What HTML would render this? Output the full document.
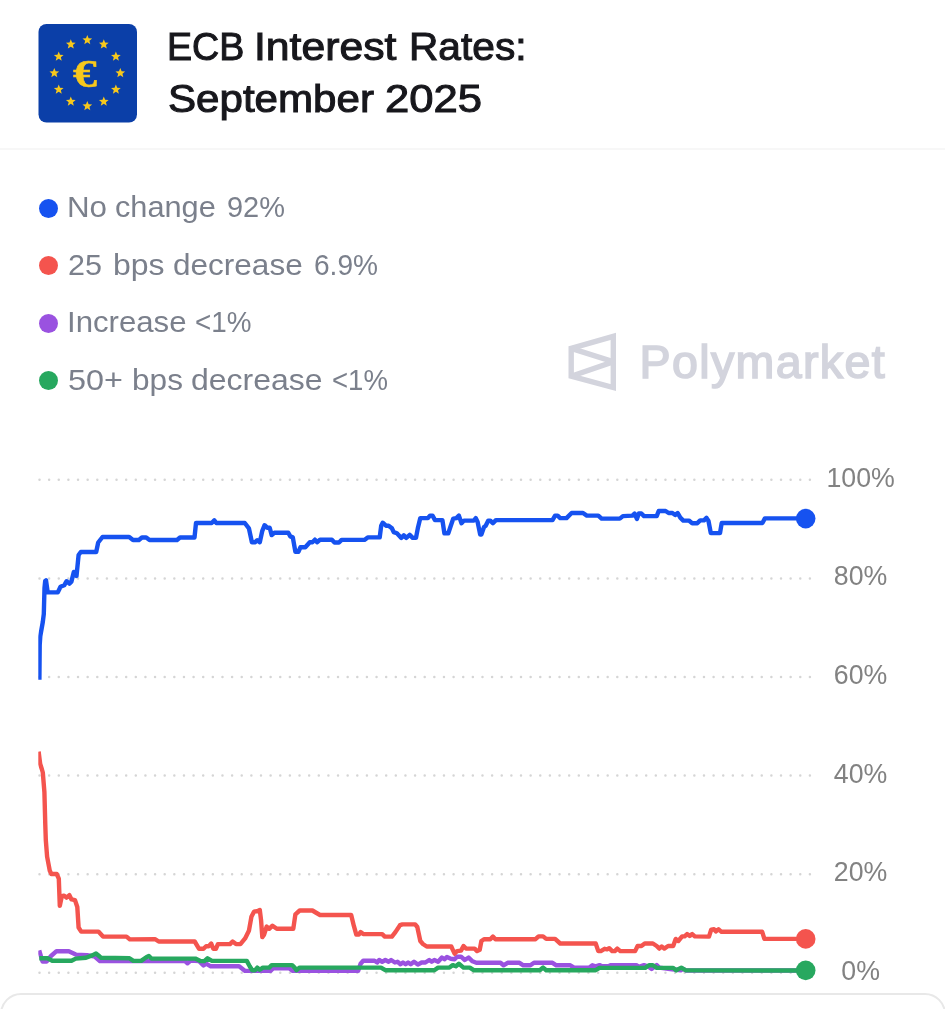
<!DOCTYPE html>
<html><head><meta charset="utf-8"><title>ECB Interest Rates: September 2025</title>
<style>
html,body{margin:0;padding:0;background:#fff;}
body{width:945px;height:1009px;position:relative;overflow:hidden;font-family:"Liberation Sans",sans-serif;}
.abs{position:absolute;}
.title{left:0;top:0;font-size:38px;line-height:52.6px;color:#17171c;white-space:nowrap;-webkit-text-stroke:1.0px #17171c;}
.title span{position:absolute;display:block;transform-origin:0 0;}
.hr{left:0;top:148px;width:945px;height:2px;background:#f7f7f7;}
.leg span{position:absolute;display:block;transform-origin:0 0;font-size:29.8px;line-height:34px;color:#7b808c;white-space:nowrap;}
.dot{left:38.7px;width:19px;height:19px;border-radius:50%;}
.card{left:-0.5px;top:993.3px;width:942px;height:40px;border:2px solid #e8e8e8;border-radius:21px;background:#fff;}
svg{position:absolute;left:0;top:0;}
svg text{font-family:"Liberation Sans",sans-serif;}
</style></head><body>
<div class="abs title"><span style="left:167.0px;top:20.7px;transform:scaleX(0.989)">ECB </span><span style="left:254.2px;top:20.7px;transform:scaleX(1.124)">Interest </span><span style="left:408.6px;top:20.7px;transform:scaleX(1.070)">Rates: </span><span style="left:167.9px;top:73.3px;transform:scaleX(1.108)">September </span><span style="left:384.7px;top:73.3px;transform:scaleX(1.147)">2025 </span></div>
<div class="abs hr"></div>
<div class="abs dot" style="top:198.9px;background:#1652f0"></div>
<div class="leg" id="l1"><span style="left:66.8px;top:190.17px;transform:scaleX(1.051)">No </span><span style="left:115.4px;top:190.17px;transform:scaleX(1.031)">change </span><span style="left:226.6px;top:190.17px;transform:scaleX(0.972)">92% </span></div>
<div class="abs dot" style="top:256.4px;background:#f4544e"></div>
<div class="leg" id="l2"><span style="left:67.9px;top:247.67px;transform:scaleX(1.023)">25 </span><span style="left:112.5px;top:247.67px;transform:scaleX(1.073)">bps </span><span style="left:172.9px;top:247.67px;transform:scaleX(1.058)">decrease </span><span style="left:314.0px;top:247.67px;transform:scaleX(0.942)">6.9% </span></div>
<div class="abs dot" style="top:313.9px;background:#9a52e0"></div>
<div class="leg" id="l3"><span style="left:66.8px;top:305.17px;transform:scaleX(1.046)">Increase </span><span style="left:195.0px;top:305.17px;transform:scaleX(0.934)">&lt;1% </span></div>
<div class="abs dot" style="top:371.4px;background:#27a85f"></div>
<div class="leg" id="l4"><span style="left:67.8px;top:362.67px;transform:scaleX(1.085)">50+ </span><span style="left:131.6px;top:362.67px;transform:scaleX(1.060)">bps </span><span style="left:191.2px;top:362.67px;transform:scaleX(1.073)">decrease </span><span style="left:331.6px;top:362.67px;transform:scaleX(0.925)">&lt;1% </span></div>
<div class="abs card"></div>
<svg width="945" height="1009" viewBox="0 0 945 1009">
<rect x="38.5" y="24" width="98.5" height="98.5" rx="8" fill="#0b3fa8"/>
<polygon points="87.30,34.90 88.62,38.18 92.15,38.42 89.43,40.69 90.30,44.13 87.30,42.24 84.30,44.13 85.17,40.69 82.45,38.42 85.98,38.18" fill="#f7c81c"/><polygon points="103.80,39.32 105.12,42.61 108.65,42.85 105.93,45.11 106.80,48.55 103.80,46.67 100.80,48.55 101.67,45.11 98.95,42.85 102.48,42.61" fill="#f7c81c"/><polygon points="115.88,51.40 117.20,54.68 120.73,54.92 118.01,57.19 118.88,60.63 115.88,58.74 112.88,60.63 113.74,57.19 111.03,54.92 114.56,54.68" fill="#f7c81c"/><polygon points="120.30,67.90 121.62,71.18 125.15,71.42 122.43,73.69 123.30,77.13 120.30,75.24 117.30,77.13 118.17,73.69 115.45,71.42 118.98,71.18" fill="#f7c81c"/><polygon points="115.88,84.40 117.20,87.68 120.73,87.92 118.01,90.19 118.88,93.63 115.88,91.74 112.88,93.63 113.74,90.19 111.03,87.92 114.56,87.68" fill="#f7c81c"/><polygon points="103.80,96.48 105.12,99.76 108.65,100.00 105.93,102.27 106.80,105.70 103.80,103.82 100.80,105.70 101.67,102.27 98.95,100.00 102.48,99.76" fill="#f7c81c"/><polygon points="87.30,100.90 88.62,104.18 92.15,104.42 89.43,106.69 90.30,110.13 87.30,108.24 84.30,110.13 85.17,106.69 82.45,104.42 85.98,104.18" fill="#f7c81c"/><polygon points="70.80,96.48 72.12,99.76 75.65,100.00 72.93,102.27 73.80,105.70 70.80,103.82 67.80,105.70 68.67,102.27 65.95,100.00 69.48,99.76" fill="#f7c81c"/><polygon points="58.72,84.40 60.04,87.68 63.57,87.92 60.86,90.19 61.72,93.63 58.72,91.74 55.72,93.63 56.59,90.19 53.87,87.92 57.40,87.68" fill="#f7c81c"/><polygon points="54.30,67.90 55.62,71.18 59.15,71.42 56.43,73.69 57.30,77.13 54.30,75.24 51.30,77.13 52.17,73.69 49.45,71.42 52.98,71.18" fill="#f7c81c"/><polygon points="58.72,51.40 60.04,54.68 63.57,54.92 60.86,57.19 61.72,60.63 58.72,58.74 55.72,60.63 56.59,57.19 53.87,54.92 57.40,54.68" fill="#f7c81c"/><polygon points="70.80,39.32 72.12,42.61 75.65,42.85 72.93,45.11 73.80,48.55 70.80,46.67 67.80,48.55 68.67,45.11 65.95,42.85 69.48,42.61" fill="#f7c81c"/>
<text id="euro" transform="translate(84.9 87.3) scale(1.2 0.99)" x="0" y="0" text-anchor="middle" font-size="40" font-weight="bold" fill="#f7c81c" stroke="#f7c81c" stroke-width="0.5" style="font-family:'Liberation Serif',serif">€</text>
<defs><clipPath id="lc"><path d="M568.5 346.2 L616 332.7 L616 391.1 L568.5 378.4 Z"/></clipPath></defs>
<g fill="none" stroke="#d3d4dd" stroke-width="5.4" stroke-linejoin="miter">
<path d="M571.2 348.4 L613.3 336.4 L613.3 387.5 L571.2 376.2 Z"/>
<path d="M571.2 348.4 L613.3 361.8 L571.2 376.2" clip-path="url(#lc)"/>
</g>
<text id="pm" x="639.5" y="377.8" font-size="46.6" fill="#d3d4dd" stroke="#d3d4dd" stroke-width="1.6" letter-spacing="1.35">Polymarket</text>
<line x1="39.5" y1="479.8" x2="811" y2="479.8" stroke="#d5d5d5" stroke-width="2.5" stroke-dasharray="0 9.63" stroke-linecap="round"/><line x1="39.5" y1="578.4" x2="811" y2="578.4" stroke="#d5d5d5" stroke-width="2.5" stroke-dasharray="0 9.63" stroke-linecap="round"/><line x1="39.5" y1="677.0" x2="811" y2="677.0" stroke="#d5d5d5" stroke-width="2.5" stroke-dasharray="0 9.63" stroke-linecap="round"/><line x1="39.5" y1="775.6" x2="811" y2="775.6" stroke="#d5d5d5" stroke-width="2.5" stroke-dasharray="0 9.63" stroke-linecap="round"/><line x1="39.5" y1="874.2" x2="811" y2="874.2" stroke="#d5d5d5" stroke-width="2.5" stroke-dasharray="0 9.63" stroke-linecap="round"/><line x1="39.5" y1="972.7" x2="811" y2="972.7" stroke="#d5d5d5" stroke-width="2.5" stroke-dasharray="0 9.63" stroke-linecap="round"/>
<text transform="translate(860.6 486.7) scale(0.955 1)" text-anchor="middle" font-size="28" fill="#828282">100%</text><text transform="translate(860.6 585.3) scale(0.955 1)" text-anchor="middle" font-size="28" fill="#828282">80%</text><text transform="translate(860.6 683.9) scale(0.955 1)" text-anchor="middle" font-size="28" fill="#828282">60%</text><text transform="translate(860.6 782.5) scale(0.955 1)" text-anchor="middle" font-size="28" fill="#828282">40%</text><text transform="translate(860.6 881.1) scale(0.955 1)" text-anchor="middle" font-size="28" fill="#828282">20%</text><text transform="translate(860.6 979.6) scale(0.955 1)" text-anchor="middle" font-size="28" fill="#828282">0%</text>
<clipPath id="cc"><rect x="38.3" y="440" width="800" height="560"/></clipPath>
<g fill="none" stroke-width="4.4" stroke-linejoin="round" stroke-linecap="butt" clip-path="url(#cc)">
<path d="M39.2 950.3 L42.5 961.5 L46.5 961.5 L51.0 956.0 L56.5 951.2 L68.8 951.2 L75.8 954.6 L87.0 955.2 L94.7 956.5 L99.9 961.1 L185.0 961.1 L187.5 963.2 L190.6 960.6 L199.1 961.1 L203.5 965.5 L206.1 963.7 L210.7 966.3 L239.1 966.3 L245.1 970.9 L270.5 970.9 L273.0 968.4 L289.5 968.4 L292.8 970.9 L358.1 970.9 L360.6 963.8 L363.2 960.8 L374.6 960.8 L377.1 962.5 L379.2 960.0 L382.2 961.8 L385.3 960.0 L388.6 961.8 L391.1 960.0 L394.9 962.5 L397.5 961.8 L400.5 964.3 L403.0 962.5 L405.6 964.3 L408.1 962.5 L410.7 964.3 L414.0 961.8 L417.8 964.6 L421.6 962.5 L425.4 962.5 L429.2 960.0 L431.7 961.8 L434.3 960.0 L438.1 961.8 L441.9 957.5 L444.4 959.2 L447.0 957.0 L450.8 958.7 L454.6 959.2 L457.1 956.7 L461.0 956.7 L464.8 960.0 L468.6 957.5 L472.5 961.3 L476.3 962.8 L500.5 962.8 L503.5 965.3 L507.6 962.8 L519.5 962.8 L523.3 965.3 L530.4 965.3 L534.0 962.8 L552.5 962.8 L556.3 965.3 L570.3 965.3 L574.1 967.6 L589.4 967.6 L592.4 965.3 L595.7 966.3 L599.5 965.1 L602.0 966.3 L608.4 966.3 L611.0 965.1 L636.3 965.1 L638.9 966.9 L644.0 965.1 L647.8 966.3 L651.6 968.9 L656.7 965.1 L659.2 967.6 L670.0 969.0 L680.8 970.2 L683.3 968.9 L685.9 970.5 L805.6 970.5" stroke="#9a52e0"/>
<path d="M39.3 958.2 L47.5 958.2 L52.3 960.8 L71.5 960.8 L75.8 958.6 L86.0 957.7 L92.2 955.4 L96.0 953.5 L98.5 955.5 L101.2 957.8 L129.5 958.3 L133.4 960.9 L141.1 960.9 L146.3 957.3 L148.9 956.0 L151.4 958.6 L195.3 958.6 L200.4 961.1 L204.3 961.1 L207.6 958.3 L212.0 960.9 L246.8 960.9 L249.7 966.3 L252.2 970.2 L255.2 970.2 L257.3 967.6 L259.8 969.7 L262.9 967.6 L269.2 967.6 L271.7 965.1 L292.1 965.1 L294.6 967.6 L296.4 970.2 L299.7 967.6 L381.0 967.6 L385.3 970.2 L434.3 970.2 L438.1 967.6 L449.5 967.6 L452.8 965.1 L455.9 966.3 L458.9 963.8 L463.5 967.6 L469.8 967.6 L473.7 970.2 L539.8 970.2 L543.1 967.6 L546.2 970.2 L595.7 970.2 L599.5 967.9 L645.2 967.9 L649.0 965.3 L652.9 965.3 L656.7 967.9 L673.2 967.9 L676.2 970.4 L678.8 968.9 L681.3 967.6 L685.9 970.3 L805.6 970.5" stroke="#27a85f"/>
<path d="M38.6 751.6 L40.2 764.0 L41.8 769.0 L42.8 772.5 L44.4 792.0 L45.3 825.0 L45.8 840.0 L47.1 856.6 L49.8 870.8 L51.4 874.0 L56.7 874.0 L58.8 878.7 L59.8 905.9 L61.8 896.2 L64.1 895.6 L66.5 897.6 L69.4 895.2 L71.5 899.4 L75.0 900.1 L77.3 907.0 L78.6 927.5 L81.2 931.6 L98.4 931.6 L103.0 936.6 L126.5 936.6 L129.8 939.4 L155.3 939.2 L158.7 941.5 L194.7 941.5 L199.1 948.8 L203.5 948.8 L206.1 946.2 L208.7 946.2 L211.2 943.6 L213.3 948.8 L215.9 948.8 L217.9 944.1 L230.0 944.1 L232.6 941.5 L236.0 944.1 L240.4 944.1 L245.1 938.4 L248.9 930.8 L251.4 916.8 L254.0 911.7 L257.8 911.0 L259.8 910.0 L261.1 920.6 L262.3 937.1 L264.1 934.6 L266.7 926.5 L269.2 928.8 L272.5 925.7 L276.8 928.8 L293.3 928.8 L295.4 914.3 L299.7 910.5 L312.4 910.5 L315.7 912.5 L320.0 915.0 L351.2 915.0 L353.8 925.7 L356.3 934.6 L358.9 934.6 L360.6 932.1 L363.2 934.1 L382.2 934.1 L384.8 936.6 L391.9 936.6 L395.4 932.1 L400.0 925.2 L402.5 924.4 L415.2 924.4 L417.3 927.0 L420.3 941.0 L422.9 944.0 L426.7 946.5 L451.3 946.5 L452.8 949.8 L454.6 953.7 L457.1 951.1 L461.0 950.6 L463.5 946.0 L466.0 948.6 L474.6 948.6 L477.1 951.1 L479.7 949.8 L481.4 941.0 L484.0 939.2 L490.3 939.2 L492.9 936.6 L495.4 939.2 L535.5 939.2 L538.6 936.4 L543.1 936.4 L546.2 938.9 L555.1 938.9 L560.2 943.5 L595.7 943.5 L598.3 951.1 L600.8 951.1 L604.6 948.8 L607.1 949.4 L609.2 948.2 L612.2 951.1 L614.8 951.1 L617.3 948.6 L620.3 951.1 L635.1 951.1 L637.6 946.0 L641.4 946.0 L644.7 943.5 L652.9 943.5 L656.7 946.0 L659.2 948.6 L661.7 946.5 L664.3 948.6 L668.1 946.0 L673.2 946.0 L675.7 938.9 L678.3 941.0 L682.1 936.4 L684.6 936.4 L687.1 934.1 L689.7 935.9 L692.2 934.1 L694.8 936.4 L709.0 936.6 L711.2 929.6 L714.0 929.3 L715.8 931.4 L718.6 929.3 L721.5 931.8 L762.2 931.8 L764.4 938.9 L805.6 938.9" stroke="#f4544e"/>
<path d="M39.4 679.7 L39.7 645.0 L40.3 636.0 L42.8 622.0 L43.8 614.0 L44.5 588.0 L45.2 581.0 L46.0 580.3 L47.7 592.4 L57.8 592.4 L60.5 586.8 L64.2 585.3 L66.6 581.2 L69.4 583.6 L71.4 581.6 L73.8 572.0 L76.5 576.0 L78.6 555.0 L80.8 552.0 L96.2 552.0 L98.2 542.5 L102.5 537.0 L129.2 537.0 L133.0 540.0 L138.9 540.0 L141.9 537.5 L146.2 537.5 L149.5 540.0 L177.0 540.0 L180.0 537.5 L194.5 537.5 L196.0 523.0 L211.7 523.0 L214.3 520.4 L216.3 523.0 L244.8 523.0 L248.9 528.3 L251.9 542.2 L255.2 542.2 L257.3 540.2 L259.8 542.2 L262.3 530.8 L264.6 525.2 L267.2 527.7 L269.7 527.7 L271.7 535.1 L274.3 532.8 L288.3 532.8 L290.3 536.4 L292.8 537.4 L295.4 551.9 L298.4 551.9 L300.4 547.3 L305.3 547.3 L309.8 542.2 L312.4 542.2 L314.9 539.7 L317.0 542.2 L320.0 539.7 L331.9 539.7 L334.5 542.5 L339.0 542.5 L341.6 539.9 L364.4 539.9 L367.7 537.4 L379.7 537.4 L381.2 525.7 L382.7 522.7 L386.0 525.7 L388.6 525.7 L391.9 528.3 L393.7 532.1 L396.9 533.3 L401.3 537.9 L403.8 535.4 L406.3 537.9 L409.7 534.9 L412.7 537.9 L416.0 537.9 L417.8 528.3 L420.3 518.1 L427.9 518.1 L430.0 515.6 L432.5 515.6 L435.0 520.1 L442.4 520.1 L444.4 533.3 L448.3 533.3 L450.8 525.7 L453.3 518.6 L456.4 518.1 L458.9 515.6 L461.5 523.2 L464.0 520.6 L473.8 520.6 L475.8 518.1 L477.6 521.9 L480.2 534.6 L481.4 534.6 L484.0 527.0 L485.7 525.7 L488.3 520.6 L490.3 520.6 L492.9 523.2 L495.9 520.1 L552.5 520.1 L555.1 515.6 L557.6 515.6 L560.2 518.1 L566.5 518.1 L571.6 513.0 L583.0 513.0 L586.8 515.6 L598.3 515.6 L601.6 518.6 L619.8 518.6 L622.9 516.1 L632.5 515.6 L634.6 513.5 L636.9 518.9 L638.9 513.5 L641.4 513.5 L644.0 516.1 L656.7 516.1 L658.7 511.0 L665.6 511.0 L668.6 513.0 L672.4 513.0 L675.2 515.0 L677.7 513.0 L680.3 517.6 L683.3 520.6 L688.9 520.6 L692.2 523.2 L697.3 523.2 L700.2 520.4 L704.0 520.4 L706.5 517.9 L708.5 521.0 L710.8 533.1 L720.0 533.1 L721.7 523.0 L762.4 523.0 L764.9 518.4 L805.6 518.4" stroke="#1652f0"/>
</g>
<circle cx="805.7" cy="518.6" r="9.8" fill="#1652f0"/>
<circle cx="805.7" cy="938.9" r="9.8" fill="#f4544e"/>
<circle cx="805.7" cy="970.4" r="9.8" fill="#27a85f"/>
</svg>
</body></html>
